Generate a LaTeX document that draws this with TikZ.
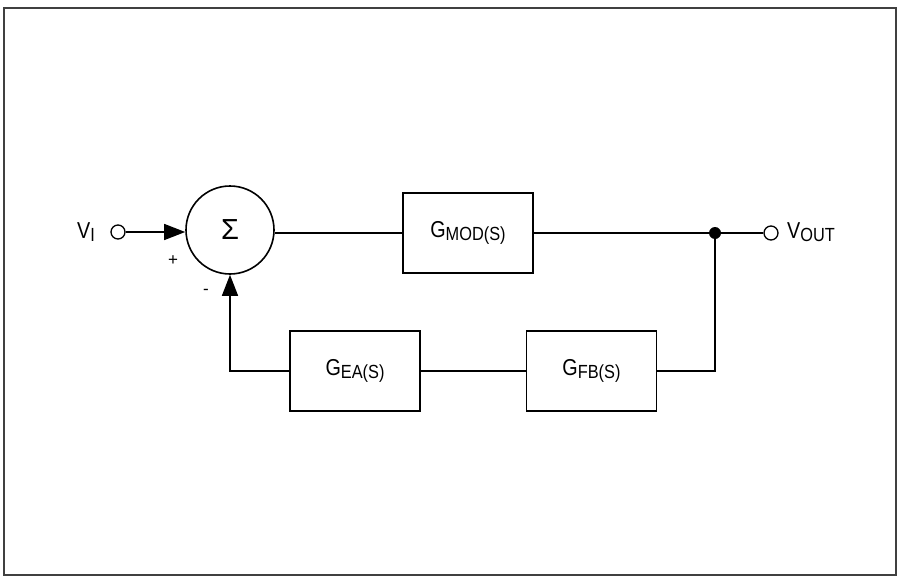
\documentclass[tikz,border=0pt]{standalone}
\usepackage{fontspec}
\setmainfont{Liberation Sans}
\usetikzlibrary{arrows.meta}
\newcommand{\biglab}[2]{\scalebox{0.86}[1]{{\fontsize{23}{23}\selectfont #1}\raisebox{-3.5pt}{\fontsize{19}{19}\selectfont #2}}}
\begin{document}
\begin{tikzpicture}[x=1pt,y=-1pt,
  blk/.style={draw,line width=1.4pt,minimum width=130pt,minimum height=80pt,inner sep=0pt},
  term/.style={draw,circle,line width=1.3pt,minimum size=14pt,inner sep=0pt,fill=white},
  wire/.style={line width=1.4pt},
  arr/.style={wire,-{Triangle[length=21pt,width=16pt]}},
  lab/.style={inner sep=0pt}]
\useasboundingbox (0,0) rectangle (900,578);
\draw[line width=2pt,draw=black!75] (4,8) rectangle (896,575);

\node[term] (in) at (118,232) {};
\node[draw,circle,line width=1.6pt,minimum size=88pt,inner sep=0pt] (sum) at (230,230)
  {\fontsize{29}{29}\selectfont Σ};
\node[blk] (mod) at (468,233) {\biglab{G}{MOD(S)}};
\node[blk] (ea) at (355,371) {\biglab{G}{EA(S)}};
\node[blk] (fb) at (591.5,371) {\biglab{G}{FB(S)}};
\node[circle,fill=black,minimum size=12pt,inner sep=0pt] (dot) at (715,233) {};
\node[term] (out) at (771,233) {};

\node[lab,anchor=east] (vi) at (95,232) {\biglab{V}{I}};
\node[lab,anchor=west] (vout) at (787,232) {\biglab{V}{OUT}};
\node[lab] (plus) at (173,261) {\fontsize{17}{17}\selectfont +};
\node[lab] (minus) at (206,292) {\fontsize{17}{17}\selectfont -};

\draw[arr] (in.east) -- (sum.west |- in.east);
\draw[wire] (sum.east |- mod.west) -- (mod.west);
\draw[wire] (mod.east) -- (dot.center);
\draw[wire] (dot.center) -- (out.west);
\draw[wire] (dot.center) |- (fb.east);
\draw[wire] (fb.west) -- (ea.east);
\draw[arr] (ea.west) -| (sum.south);
\end{tikzpicture}
\end{document}
